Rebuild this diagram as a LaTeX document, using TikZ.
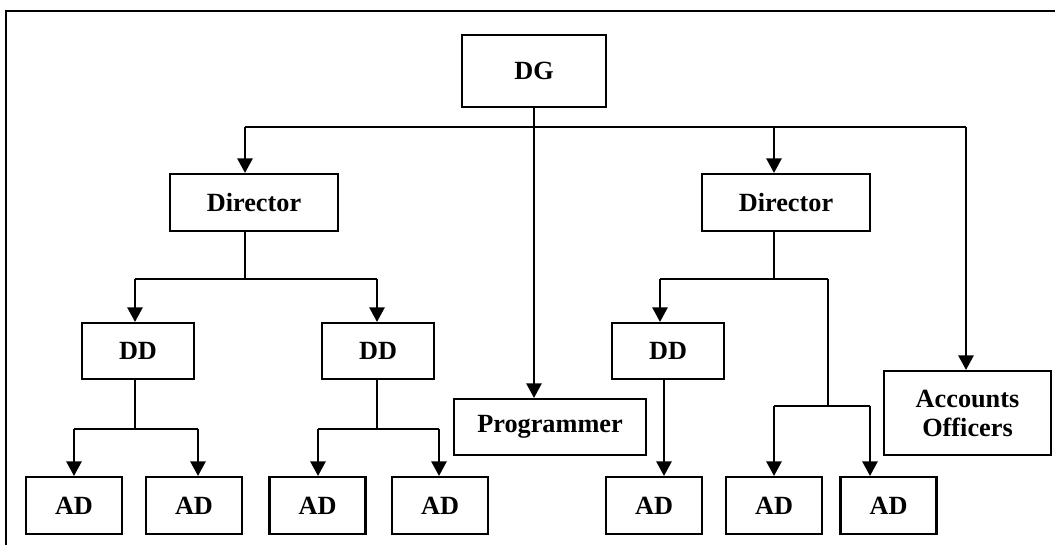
\documentclass[tikz,border=0pt]{standalone}
\usepackage{fontspec}
\setmainfont{Liberation Serif}
\usetikzlibrary{arrows.meta}
\begin{document}
\begin{tikzpicture}[x=0.75pt,y=-0.75pt,
  box/.style={draw,line width=1.6pt,inner sep=0pt,align=center,
    font=\fontsize{19.7}{21.75}\selectfont\bfseries},
  conn/.style={line width=1.5pt},
  arr/.style={line width=1.5pt,-{Triangle[length=11pt,width=11.5pt]}}]
\useasboundingbox (0,0) rectangle (1055,544);
% frame
\draw[line width=1.6pt] (1056,11) -- (6,11) -- (6,545);
% nodes
\node[box,minimum width=108pt,minimum height=54pt] (DG) at (534,71) {DG};
\node[box,minimum width=126pt,minimum height=42.75pt] (Dir1) at (254,202.5) {Director};
\node[box,minimum width=126pt,minimum height=42.75pt] (Dir2) at (786,202.5) {Director};
\node[box,minimum width=84pt,minimum height=42pt] (DD1) at (138,351) {DD};
\node[box,minimum width=84pt,minimum height=42pt] (DD2) at (378,351) {DD};
\node[box,minimum width=84pt,minimum height=42pt] (DD3) at (668,351) {DD};
\node[box,minimum width=144pt,minimum height=42pt] (Prog) at (550,427) {Programmer};
\node[box,minimum width=125pt,minimum height=63pt] (Acc) at (967.5,413) {Accounts\\Officers};
\node[box,minimum width=72pt,minimum height=42.75pt] (AD1) at (74,505.5) {AD};
\node[box,minimum width=72pt,minimum height=42.75pt] (AD2) at (194,505.5) {AD};
\node[box,minimum width=72pt,minimum height=42.75pt] (AD3) at (317.5,505.5) {AD};
\node[box,minimum width=72pt,minimum height=42.75pt] (AD4) at (440,505.5) {AD};
\node[box,minimum width=72pt,minimum height=42.75pt] (AD5) at (654,505.5) {AD};
\node[box,minimum width=72pt,minimum height=42.75pt] (AD6) at (774,505.5) {AD};
\node[box,minimum width=72pt,minimum height=42.75pt] (AD7) at (888.5,505.5) {AD};
% junction coordinates
\coordinate (tL) at (245,127);
\coordinate (tD) at (774,127);
\coordinate (tR) at (966,127);
\coordinate (a1) at (135,279);
\coordinate (a2) at (377,279);
\coordinate (a3) at (660,279);
\coordinate (a4) at (828,279);
\coordinate (b1) at (74,429);
\coordinate (b2) at (198,429);
\coordinate (b3) at (318,429);
\coordinate (b4) at (439,429);
\coordinate (b5) at (774,406);
\coordinate (b6) at (870,406);
% top level
\draw[conn] (tL) -- (tR);
\draw[arr] (DG.south) -- (DG.south |- Prog.north);
\draw[arr] (tL) -- (tL |- Dir1.north);
\draw[arr] (tD) -- (tD |- Dir2.north);
\draw[arr] (tR) -- (tR |- Acc.north);
% left director
\draw[conn] (tL |- Dir1.south) -- (tL |- a1);
\draw[conn] (a1) -- (a2);
\draw[arr] (a1) -- (a1 |- DD1.north);
\draw[arr] (a2) -- (a2 |- DD2.north);
% DD1
\draw[conn] (a1 |- DD1.south) -- (a1 |- b1);
\draw[conn] (b1) -- (b2);
\draw[arr] (b1) -- (b1 |- AD1.north);
\draw[arr] (b2) -- (b2 |- AD2.north);
% DD2
\draw[conn] (a2 |- DD2.south) -- (a2 |- b3);
\draw[conn] (b3) -- (b4);
\draw[arr] (b3) -- (b3 |- AD3.north);
\draw[arr] (b4) -- (b4 |- AD4.north);
% right director
\draw[conn] (tD |- Dir2.south) -- (tD |- a3);
\draw[conn] (a3) -- (a4);
\draw[arr] (a3) -- (a3 |- DD3.north);
\draw[conn] (a4) -- (a4 |- b5);
\draw[conn] (b5) -- (b6);
\draw[arr] (b5) -- (b5 |- AD6.north);
\draw[arr] (b6) -- (b6 |- AD7.north);
% DD3
\draw[arr] ([xshift=-3pt]DD3.south) -- ([xshift=-3pt]DD3.south |- AD5.north);
\end{tikzpicture}
\end{document}
